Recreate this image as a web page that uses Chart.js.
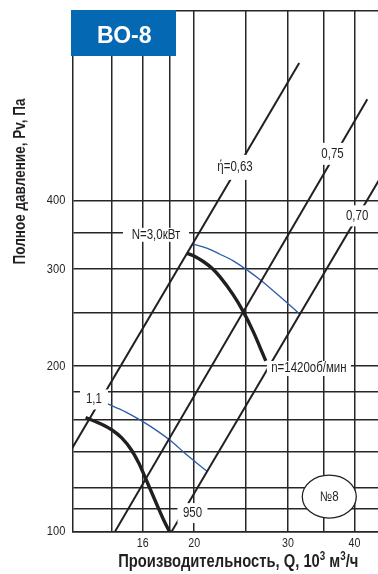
<!DOCTYPE html>
<html>
<head>
<meta charset="utf-8">
<script src="https://cdn.jsdelivr.net/npm/chart.js@4/dist/chart.umd.min.js"></script>
<style>
  html, body { margin: 0; padding: 0; background: #fff; }
  #wrap { width: 378px; height: 574px; position: relative; }
</style>
</head>
<body>
<div id="wrap"><canvas id="c" width="378" height="574"></canvas></div>
<script>
// Axis ranges (Q in 10^3 m3/h, P in Pa)
const Q_MIN = 11.8, Q_MAX = 44.3;
const P_MIN = 100, P_MAX = 885;

// Grid lines and labelled ticks
const qGrid = [14, 16, 18, 20, 25, 30, 35, 40];
const qLabelled = [16, 20, 30, 40];
const pGrid = [100, 110, 120, 140, 160, 180, 200, 250, 300, 350, 400];
const pLabelled = [100, 200, 300, 400];

// Efficiency lines (straight on log-log axes)
const eta063Q = [11.8, 31.5];
const eta063P = [142, 711];
const eta075Q = [14.19, 42.3];
const eta075P = [100, 611];
const eta070Q = [18.13, 46];
const eta070P = [100, 460];

// Pressure characteristic, n = 1420 rpm
const n1420Q = [19.35, 20.06, 20.80, 21.60, 22.36, 23.68, 24.73, 25.82, 26.96, 27.26];
const n1420P = [320.9, 316.5, 309.8, 301.1, 290.5, 269.4, 251.2, 231.0, 209.6, 204.4];

// Pressure characteristic, n = 950 rpm
const n950Q = [12.50, 13.20, 13.99, 14.63, 15.24, 15.75, 16.16, 16.62, 17.09, 17.54, 17.97];
const n950P = [161.2, 157.8, 153.2, 147.9, 140.8, 133.0, 125.7, 118.1, 110.9, 104.8, 100];

// Shaft power lines, N = 3.0 kW and N = 1.1 kW
const pow30Q = [19.91, 21.11, 22.36, 23.68, 25.27, 26.78, 28.98, 31.60];
const pow30P = [333.2, 327.7, 319.4, 310.7, 297.9, 285.6, 267.5, 248.5];
const pow11Q = [13.20, 13.79, 14.82, 15.93, 17.12, 18.14, 19.21, 21.11];
const pow11P = [173.6, 170.5, 165.3, 159.0, 152.0, 145.8, 138.9, 128.9];

// In-chart captions and where they sit (in axis units)
const noteText = ['ή=0,63', '0,75', '0,70', 'N=3,0кВт', 'n=1420об/мин', '1,1', '950'];
const noteQ = [23.86, 36.38, 40.47, 16.95, 32.85, 12.96, 19.85];
const noteP = [459.4, 486.2, 375.0, 346.4, 198.0, 173.9, 108.1];

// Fan size badge
const badgeText = '№8';
const badgeQ = 35.88, badgeP = 115.8;

const titleText = 'ВО-8';
const yTitle = 'Полное давление, Pv, Па';
const xTitleParts = ['Производительность, Q, 10', '3', ' м', '3', '/ч'];

// ---- styling ----
const FONT = "'Liberation Sans', Arial, sans-serif";
const NARROW = 0.82;            // horizontal squeeze for a condensed look
const INK = '#231f20';
const GRID = '#262626';
const BLUE = '#2a5caa';
const noteBox = [[21, 12.5], [12.5, 11], [11, 10.5], [33, 7], [42, 7.5], [14, 10], [15, 10]];

const pts = (qs, ps) => qs.map((q, i) => ({ x: q, y: ps[i] }));
const lineSet = (qs, ps, color, width, smooth) => ({
  data: pts(qs, ps),
  borderColor: color,
  borderWidth: width,
  pointRadius: 0,
  fill: false,
  clip: 0,
  cubicInterpolationMode: smooth ? 'monotone' : 'default',
  tension: 0,
  borderCapStyle: 'butt'
});

// condensed text helper
function say(ctx, text, x, y, font, align, baseline, sx) {
  ctx.save();
  ctx.translate(x, y);
  ctx.scale(sx || NARROW, 1);
  ctx.font = font;
  ctx.textAlign = align || 'center';
  ctx.textBaseline = baseline || 'middle';
  ctx.fillText(text, 0, 0);
  ctx.restore();
}

const decor = {
  id: 'decor',
  afterDatasetsDraw(chart) {
    const { ctx, chartArea } = chart;
    const x = chart.scales.x, y = chart.scales.y;
    ctx.save();
    // tick labels
    ctx.fillStyle = INK;
    pLabelled.forEach(v => say(ctx, String(v), chartArea.left - 7, y.getPixelForValue(v), `13.5px ${FONT}`, 'right'));
    qLabelled.forEach(v => say(ctx, String(v), x.getPixelForValue(v), chartArea.bottom + 11.6, `13px ${FONT}`, 'center'));
    // captions on white plates
    noteText.forEach((t, i) => {
      const cx = x.getPixelForValue(noteQ[i]);
      const cy = y.getPixelForValue(noteP[i]);
      const [hw, hh] = noteBox[i];
      ctx.fillStyle = '#fff';
      ctx.fillRect(cx - hw, cy - hh, hw * 2, hh * 2);
      ctx.fillStyle = INK;
      say(ctx, t, cx, cy, `14px ${FONT}`);
    });
    // size badge
    const bx = x.getPixelForValue(badgeQ), by = y.getPixelForValue(badgeP);
    ctx.beginPath();
    ctx.ellipse(bx, by, 27, 21.5, 0, 0, Math.PI * 2);
    ctx.fillStyle = '#fff';
    ctx.fill();
    ctx.lineWidth = 1.3;
    ctx.strokeStyle = INK;
    ctx.stroke();
    ctx.fillStyle = INK;
    say(ctx, badgeText, bx, by, `14px ${FONT}`);
    ctx.restore();
  },
  afterDraw(chart) {
    const { ctx, chartArea } = chart;
    ctx.save();
    // model plate
    ctx.fillStyle = '#0568b3';
    ctx.fillRect(chartArea.left - 1.3, chartArea.top - 0.7, 105, 46);
    ctx.fillStyle = '#fff';
    say(ctx, titleText, chartArea.left + 52, 42.8, `bold 24px ${FONT}`, 'center', 'alphabetic', 0.96);
    // y title
    ctx.fillStyle = INK;
    ctx.save();
    ctx.translate(20, 181.5);
    ctx.rotate(-Math.PI / 2);
    say(ctx, yTitle, 0, 0, `bold 16.5px ${FONT}`, 'center', 'middle');
    ctx.restore();
    // x title with superscripts
    const big = `bold 18px ${FONT}`, sup = `bold 12px ${FONT}`;
    const widths = xTitleParts.map((s, i) => {
      ctx.font = (i % 2 === 1) ? sup : big;
      return ctx.measureText(s).width * NARROW;
    });
    const total = widths.reduce((a, b) => a + b, 0);
    let cx = 238.3 - total / 2;
    xTitleParts.forEach((s, i) => {
      const isSup = i % 2 === 1;
      say(ctx, s, cx, isSup ? 559.5 : 566.5, isSup ? sup : big, 'left', 'alphabetic');
      cx += widths[i];
    });
    ctx.restore();
  }
};

new Chart(document.getElementById('c'), {
  type: 'line',
  data: {
    datasets: [
      lineSet(eta063Q, eta063P, INK, 2, false),
      lineSet(eta075Q, eta075P, INK, 2, false),
      lineSet(eta070Q, eta070P, INK, 2, false),
      lineSet(pow30Q, pow30P, BLUE, 1.3, true),
      lineSet(pow11Q, pow11P, BLUE, 1.3, true),
      lineSet(n1420Q, n1420P, INK, 3.4, true),
      lineSet(n950Q, n950P, INK, 3.4, true)
    ]
  },
  options: {
    responsive: false,
    devicePixelRatio: 1,
    animation: false,
    events: [],
    layout: { padding: { top: 10.7, right: 0, bottom: 0, left: 0 } },
    plugins: { legend: { display: false }, tooltip: { enabled: false } },
    scales: {
      x: {
        type: 'logarithmic',
        position: 'bottom',
        min: Q_MIN,
        max: Q_MAX,
        afterBuildTicks: (s) => { s.ticks = qGrid.map(v => ({ value: v })); },
        afterFit: (s) => { s.height = 42.3; },
        grid: { color: GRID, lineWidth: 1.5, drawTicks: false },
        border: { color: GRID, width: 1.5 },
        ticks: { display: false }
      },
      y: {
        type: 'logarithmic',
        position: 'left',
        min: P_MIN,
        max: P_MAX,
        afterBuildTicks: (s) => { s.ticks = pGrid.concat([P_MAX]).map(v => ({ value: v })); },
        afterFit: (s) => { s.width = 72.3; },
        grid: { color: GRID, lineWidth: 1.5, drawTicks: false },
        border: { color: GRID, width: 1.5 },
        ticks: { display: false }
      }
    }
  },
  plugins: [decor]
});
</script>
</body>
</html>
